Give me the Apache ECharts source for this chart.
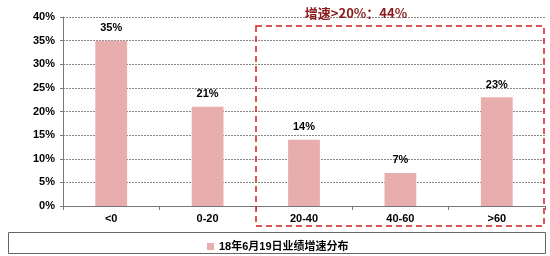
<!DOCTYPE html>
<html><head><meta charset="utf-8">
<script src="https://cdn.jsdelivr.net/npm/echarts@6/dist/echarts.min.js"></script>
<style>html,body{margin:0;padding:0;background:#fff}#c{width:550px;height:256px}</style>
</head><body><div id="c"></div>
<script>
const categories = ['<0', '0-20', '20-40', '40-60', '>60'];
const values = [35, 21, 14, 7, 23];
const labels = ['35%', '21%', '14%', '7%', '23%'];
const seriesName = '18年6月19日业绩增速分布';
const note = '增速>20%：44%';

const chart = echarts.init(document.getElementById('c'));
const latin = '"Liberation Sans", Arial, sans-serif';
const cjk = '"Liberation Sans", "Noto Sans CJK SC", sans-serif';
chart.setOption({
  animation: false,
  grid: {left: 63, right: 5, top: 17, bottom: 50},
  xAxis: {
    type: 'category', data: categories,
    axisLine: {lineStyle: {color: '#777', width: 1}},
    axisTick: {show: true, length: 4, lineStyle: {color: '#777'}},
    axisLabel: {color: '#000', fontFamily: latin, fontSize: 11, fontWeight: 'bold', margin: 7}
  },
  yAxis: {
    type: 'value', min: 0, max: 40, interval: 5,
    axisLine: {show: true, lineStyle: {color: '#777'}},
    axisTick: {show: true, length: 3, lineStyle: {color: '#777'}},
    axisLabel: {color: '#000', fontFamily: latin, fontSize: 11, fontWeight: 'bold', margin: 8, formatter: '{value}%'},
    splitLine: {lineStyle: {color: '#888', type: [2, 1], width: 1}}
  },
  legend: {
    data: [seriesName], left: 202, top: 236, icon: 'rect', itemWidth: 7, itemHeight: 7, itemGap: 4,
    textStyle: {fontFamily: cjk, fontSize: 11, fontWeight: 'bold', color: '#000'}
  },
  series: [{
    name: seriesName, type: 'bar', data: values, barWidth: '33%',
    itemStyle: {color: '#E8AEAE'},
    label: {show: true, position: 'top', distance: 7, color: '#000', fontFamily: latin, fontSize: 11, fontWeight: 'bold',
      formatter: p => labels[p.dataIndex]}
  }],
  graphic: [
    {type: 'rect', shape: {x: 8.5, y: 232.5, width: 537, height: 21}, style: {fill: 'none', stroke: '#666', lineWidth: 1}, silent: true},
    {type: 'rect', shape: {x: 256, y: 26, width: 288, height: 200}, style: {fill: 'none', stroke: '#D42020', lineWidth: 1.5, lineDash: [6, 4]}, silent: true, z: 10},
    {type: 'text', x: 356, y: 13, style: {text: note, textAlign: 'center', textVerticalAlign: 'middle', fill: '#8B1A1A', font: 'bold 13px "Noto Sans CJK SC", sans-serif'}, z: 10}
  ]
});
</script></body></html>
